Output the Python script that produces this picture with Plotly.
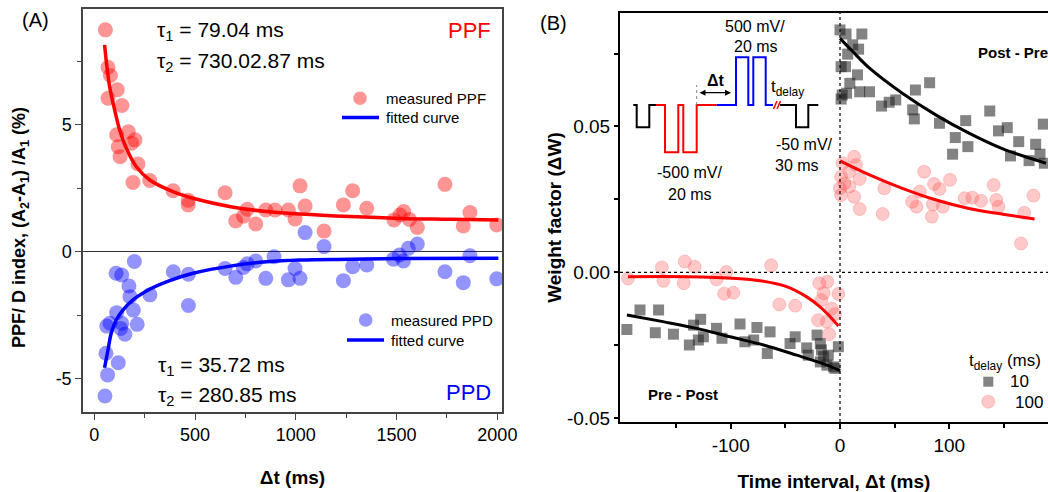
import plotly.graph_objects as go

W, H = 1048, 492

# ---------------- Panel A data ----------------
ppf_x = [55, 68, 80, 114, 68, 137, 111, 169, 202, 119, 128, 185, 217, 192, 275, 391, 466, 466,
         649, 702, 740, 759, 801, 851, 897, 963, 996, 1021, 1046, 1140, 1236, 1282, 1352,
         1487, 1517, 1535, 1564, 1603, 1740, 1831, 1864, 1997]
ppf_y = [8.73, 7.26, 6.93, 6.37, 6.04, 5.75, 4.60, 4.72, 4.40, 4.13, 3.74, 4.27, 3.45, 2.72, 2.80, 2.40, 2.02, 1.84,
         2.32, 1.21, 1.40, 1.67, 1.09, 1.64, 1.64, 1.64, 1.29, 2.59, 1.80, 0.81, 1.84, 2.40, 1.71,
         1.25, 1.44, 1.58, 1.27, 0.95, 2.65, 1.01, 1.54, 1.05]

ppd_x = [53, 66, 58, 119, 62, 78, 111, 136, 131, 152, 213, 194, 177, 172, 136, 108, 199, 276, 392, 467, 467,
         649, 702, 740, 759, 801, 851, 892, 963, 996, 1021, 1046, 1140, 1236, 1282, 1352,
         1484, 1514, 1534, 1558, 1603, 1740, 1831, 1864, 1997]
ppd_y = [-5.68, -4.85, -4.00, -4.37, -2.93, -2.82, -2.40, -2.82, -3.02, -3.25, -2.86, -2.30, -1.77, -1.35, -0.92, -0.85, -0.39, -1.70, -0.79, -0.89, -2.12,
         -0.66, -1.01, -0.62, -0.48, -0.37, -1.05, -0.20, -1.11, -0.66, -1.05, 0.75, 0.20, -1.14, -0.59, -0.52,
         -0.30, -0.13, -0.37, 0.13, 0.30, -0.79, -1.22, -0.16, -1.07]

ppf_fit_x = [51, 76, 101, 126, 159, 208, 275, 391, 490, 690, 855, 1021, 1269, 1517, 1765, 2005]
ppf_fit_y = [8.14, 6.50, 5.58, 4.79, 4.07, 3.35, 2.82, 2.36, 2.10, 1.75, 1.58, 1.48, 1.38, 1.31, 1.28, 1.25]
ppd_fit_x = [51, 68, 84, 109, 142, 192, 275, 374, 490, 690, 855, 1021, 1269, 1517, 2005]
ppd_fit_y = [-4.57, -3.87, -3.21, -2.69, -2.30, -1.90, -1.48, -1.14, -0.85, -0.55, -0.40, -0.33, -0.30, -0.27, -0.26]

a_xticks = [0, 500, 1000, 1500, 2000]
a_yticks = [-5, 0, 5]
a_yticklabels = ["-5", "0", "5"]

# ---------------- Panel B data ----------------
post10_x = [0, 5.5, 20, 11.6, 17, 7, 1, 5, 16, 9, 2, 1, 6, 18, 27, 38, 45, 51, 69, 82, 66.5, 68, 91, 115,
            105.5, 117, 103, 137, 145, 153, 163.5, 156, 173, 179, 183, 186, 187]
post10_y = [0.0831, 0.0817, 0.0817, 0.0780, 0.0765, 0.0748, 0.0705, 0.0705, 0.0677, 0.0648, 0.0608, 0.0594,
            0.0614, 0.0619, 0.0619, 0.0570, 0.0583, 0.0591, 0.0625, 0.0650, 0.0557, 0.0526, 0.0511, 0.0520,
            0.0462, 0.0431, 0.0405, 0.0553, 0.0485, 0.0496, 0.0448, 0.0399, 0.0383, 0.0439, 0.0405, 0.0508, 0.0374]
post100_x = [13, 2.4, 14.6, 8.5, 1, 18, 4, 0, 8.5, 13, 1, 18, 39, 40.5, 77, 86, 91, 100.6, 73, 66, 70, 85,
             94, 84, 114, 121, 129, 140.6, 143, 145, 168.6, 177, 165.6]
post100_y = [0.0396, 0.0374, 0.0368, 0.0345, 0.0328, 0.0320, 0.0305, 0.0288, 0.0294, 0.0259, 0.0265, 0.0217,
             0.0200, 0.0288, 0.0345, 0.0303, 0.0286, 0.0317, 0.0277, 0.0242, 0.0225, 0.0233, 0.0225, 0.0191,
             0.0254, 0.0256, 0.0245, 0.0299, 0.0248, 0.0225, 0.0204, 0.0263, 0.0099]
pre10_x = [-195, -183, -166, -169, -152.4, -137.8, -134, -127.5, -129.6, -125, -113, -108, -91.5, -87, -76,
           -79, -66.5, -64, -45.7, -41, -30.5, -29, -21, -18, -17, -15, -10.7, -6, -1.5, -18, -12, -4.6]
pre10_y = [-0.0196, -0.0129, -0.0129, -0.0207, -0.0212, -0.0249, -0.0181, -0.0161, -0.0232, -0.0221, -0.0192,
           -0.0226, -0.0177, -0.0238, -0.0189, -0.0232, -0.0278, -0.0204, -0.0244, -0.0221, -0.0259, -0.0284,
           -0.0215, -0.0244, -0.0266, -0.0289, -0.0284, -0.0324, -0.0255, -0.0307, -0.0318, -0.0329]
pre100_x = [-194, -163, -161.6, -142, -133, -143, -113, -104, -106, -97.6, -63, -55.5, -41, -19, -11.6, -15,
            -1.5, -17, -7.6, -4.6, -20, -12, -10]
pre100_y = [-0.0021, 0.0017, -0.0029, 0.0037, 0.0019, -0.0037, -0.0024, 0.0001, -0.0073, -0.0070, 0.0024,
            -0.0110, -0.0114, -0.0037, -0.0032, -0.0071, -0.0074, -0.0095, -0.0124, -0.0143, -0.0164, -0.0169, -0.0212]

post10_fit_x = [0, 11.6, 27, 57, 88, 118, 149, 179, 188.5]
post10_fit_y = [0.0802, 0.0757, 0.0700, 0.0614, 0.0539, 0.0477, 0.0423, 0.0385, 0.0374]
post100_fit_x = [0, 27, 57, 88, 118, 149, 178]
post100_fit_y = [0.0382, 0.0334, 0.0288, 0.0248, 0.0219, 0.0199, 0.0183]
pre10_fit_x = [-195, -162, -131, -100.6, -70, -39.6, -15, 0]
pre10_fit_y = [-0.0146, -0.0169, -0.0192, -0.0221, -0.0249, -0.0284, -0.0314, -0.0337]
pre100_fit_x = [-194, -140, -94.5, -73, -49, -30.5, -18.3, -9, -1.5]
pre100_fit_y = [-0.0015, -0.0015, -0.0021, -0.0029, -0.0049, -0.0084, -0.0118, -0.0152, -0.0184]

b_xticks = [-100, 0, 100]
b_xticklabels = ["-100", "0", "100"]
b_yticks = [-0.05, 0.0, 0.05]
b_yticklabels = ["-0.05", "0.00", "0.05"]

FONT = "Liberation Sans, Arial, sans-serif"
RED_A = "rgba(255,0,0,0.42)"
BLUE_A = "rgba(0,0,255,0.42)"
SQ = "rgba(30,30,30,0.55)"
RC = "rgba(255,60,60,0.28)"
RC_LINE = "rgba(255,120,120,0.35)"


def px(x):
    return x / W


def py(y):
    return 1 - y / H


fig = go.Figure()

# ----- Panel A traces -----
fig.add_trace(go.Scatter(x=ppf_x, y=ppf_y, mode="markers", name="measured PPF",
                         marker=dict(size=15, color=RED_A, line=dict(width=0)), showlegend=False,
                         xaxis="x", yaxis="y"))
fig.add_trace(go.Scatter(x=ppf_fit_x, y=ppf_fit_y, mode="lines", name="fitted curve (PPF)",
                         line=dict(color="#ff0000", width=3.5, shape="spline"),
                         showlegend=False, xaxis="x", yaxis="y"))
fig.add_trace(go.Scatter(x=ppd_x, y=ppd_y, mode="markers", name="measured PPD",
                         marker=dict(size=15, color=BLUE_A, line=dict(width=0)), showlegend=False,
                         xaxis="x", yaxis="y"))
fig.add_trace(go.Scatter(x=ppd_fit_x, y=ppd_fit_y, mode="lines", name="fitted curve (PPD)",
                         line=dict(color="#0000ff", width=3.5, shape="spline"), showlegend=False,
                         xaxis="x", yaxis="y"))

# ----- Panel B traces -----
fig.add_trace(go.Scatter(x=post10_x + pre10_x, y=post10_y + pre10_y, mode="markers", name="10",
                         marker=dict(symbol="square", size=11, color=SQ, line=dict(width=0)),
                         showlegend=False, xaxis="x2", yaxis="y2"))
fig.add_trace(go.Scatter(x=post100_x + pre100_x, y=post100_y + pre100_y, mode="markers", name="100",
                         marker=dict(symbol="circle", size=13, color=RC, line=dict(width=1, color=RC_LINE)),
                         showlegend=False, xaxis="x2", yaxis="y2"))
for fx, fy, c in [(post10_fit_x, post10_fit_y, "#000000"), (pre10_fit_x, pre10_fit_y, "#000000"),
                  (post100_fit_x, post100_fit_y, "#ff0000"), (pre100_fit_x, pre100_fit_y, "#ff0000")]:
    fig.add_trace(go.Scatter(x=fx, y=fy, mode="lines", line=dict(color=c, width=3, shape="spline"),
                             showlegend=False, xaxis="x2", yaxis="y2"))

axis_common = dict(showgrid=False, showline=True, ticks="outside", automargin=False)

fig.update_layout(
    width=W, height=H, margin=dict(l=0, r=0, t=0, b=0),
    paper_bgcolor="white", plot_bgcolor="white", showlegend=False,
    font=dict(family=FONT, color="#000"),
    xaxis=dict(domain=[px(83), px(502)], range=[-56, 2023], tickvals=a_xticks,
               tickfont=dict(family=FONT, size=18, color="#000"),
               ticklen=6, tickwidth=1.3, linecolor="#444", linewidth=1.5, mirror=True, zeroline=False,
               minor=dict(tickvals=[250, 750, 1250, 1750], ticklen=4, ticks="outside", tickcolor="#444"),
               tickcolor="#444",
               title=dict(text="<b>Δt (ms)</b>", font=dict(family=FONT, size=19), standoff=26),
               anchor="y", **axis_common),
    yaxis=dict(domain=[py(412), py(9)], range=[-6.31, 9.55], tickvals=a_yticks, ticktext=a_yticklabels,
               tickfont=dict(family=FONT, size=18, color="#000"),
               ticklen=6, tickwidth=1.3, linecolor="#444", linewidth=1.5, mirror=True,
               zeroline=True, zerolinecolor="#333", zerolinewidth=1.2,
               minor=dict(tickvals=[-2.5, 2.5, 7.5], ticklen=4, ticks="outside", tickcolor="#444"),
               tickcolor="#444", anchor="x", **axis_common),
    xaxis2=dict(domain=[px(620), 1.0], range=[-201.3, 190.3], tickvals=b_xticks, ticktext=b_xticklabels,
                tickfont=dict(family=FONT, size=19, color="#000"),
                ticklen=5, tickwidth=1.5, linecolor="#000", linewidth=2, mirror=True, zeroline=False,
                minor=dict(tickvals=[-150, -50, 50, 150], ticklen=4, ticks="outside", tickcolor="#000"),
                tickcolor="#000",
                title=dict(text="<b>Time interval, Δt (ms)</b>", font=dict(family=FONT, size=19), standoff=21),
                anchor="y2", **axis_common),
    yaxis2=dict(domain=[py(422), py(13)], range=[-0.0513, 0.0889], tickvals=b_yticks, ticktext=b_yticklabels,
                tickfont=dict(family=FONT, size=19, color="#000"),
                ticklen=4, tickwidth=1.5, linecolor="#000", linewidth=2, mirror=False,
                zeroline=False,
                minor=dict(tickvals=[-0.025, 0.025, 0.075], ticklen=4, ticks="outside", tickcolor="#000"),
                tickcolor="#000",
                title=dict(text="<b>Weight factor (ΔW)</b>", font=dict(family=FONT, size=19), standoff=0),
                anchor="x2", **axis_common),
)

# ----- shapes: reference lines in B, the pulse inset and legend glyphs -----
shapes = [
    dict(type="line", xref="x2", yref="y2 domain", x0=0, x1=0, y0=0, y1=1,
         line=dict(color="#000", width=1.2, dash="dot")),
    dict(type="line", xref="x2 domain", yref="y2", x0=0, x1=1, y0=0, y1=0,
         line=dict(color="#000", width=1.2, dash="dot")),
]


def path(points):
    return "M " + " L ".join(f"{px(a):.5f},{py(b):.5f}" for a, b in points)


base, dn_b, dn_r, up_b = 105, 127.3, 152.3, 57.3
inset = [
    ([(633.3, base), (636.7, base), (636.7, dn_b), (649.3, dn_b), (649.3, base), (656, base)], "#000"),
    ([(656, base), (665, base), (665, dn_r), (678.3, dn_r), (678.3, base), (683.3, base), (683.3, dn_r),
      (696.7, dn_r), (696.7, base), (716.7, base)], "#ff0000"),
    ([(716.7, base), (736, base), (736, up_b), (748.3, up_b), (748.3, base), (753.3, base), (753.3, up_b),
      (765.7, up_b), (765.7, base), (773, base)], "#0000ff"),
    ([(780, base), (796, base), (796, dn_b), (808.3, dn_b), (808.3, base), (818.3, base)], "#000"),
]
for pts, col in inset:
    shapes.append(dict(type="path", xref="paper", yref="paper", path=path(pts),
                       line=dict(color=col, width=2)))
for x0 in (773.5, 777):
    shapes.append(dict(type="line", xref="paper", yref="paper", x0=px(x0), x1=px(x0 + 3.5),
                       y0=py(109), y1=py(101), line=dict(color="#ff0000", width=1.5)))
shapes.append(dict(type="line", xref="paper", yref="paper", x0=px(696.7), x1=px(696.7), y0=py(105), y1=py(85),
                   line=dict(color="#888", width=1, dash="dot")))


def circle(cx, cy, r, fill, line_color=None):
    return dict(type="circle", xref="paper", yref="paper", x0=px(cx - r), x1=px(cx + r),
                y0=py(cy + r), y1=py(cy - r), fillcolor=fill,
                line=dict(width=1 if line_color else 0, color=line_color or fill))


def hline(xa, xb, y, color, width):
    return dict(type="line", xref="paper", yref="paper", x0=px(xa), x1=px(xb), y0=py(y), y1=py(y),
                line=dict(color=color, width=width))


# legend glyphs
shapes += [
    circle(360, 98.3, 6.8, RED_A),
    hline(342, 379, 117.5, "#0000ff", 3.5),
    circle(365.7, 320, 6.8, BLUE_A),
    hline(347, 384, 340, "#0000ff", 3.5),
    dict(type="rect", xref="paper", yref="paper", x0=px(983.3), x1=px(993.3), y0=py(386.7), y1=py(376.7),
         fillcolor=SQ, line=dict(width=0)),
    circle(988.3, 401.7, 6.5, RC, RC_LINE),
]
fig.update_layout(shapes=shapes)


# ----- annotations -----
def txt(x, y, text, size=16, color="#000", xanchor="center", bold=False, angle=0):
    return dict(x=px(x), y=py(y), xref="paper", yref="paper", text=f"<b>{text}</b>" if bold else text,
                showarrow=False, xanchor=xanchor, yanchor="middle", textangle=angle,
                font=dict(family=FONT, size=size, color=color))


ann = [
    txt(35, 20, "(A)", 20),
    txt(155, 31, "τ<sub>1</sub> = 79.04 ms", 21, xanchor="left"),
    txt(155, 62, "τ<sub>2</sub> = 730.02.87 ms", 21, xanchor="left"),
    txt(493, 31, "PPF", 22, "#ff0000", xanchor="right"),
    txt(156, 366, "τ<sub>1</sub> = 35.72 ms", 21, xanchor="left"),
    txt(156, 396, "τ<sub>2</sub> = 280.85 ms", 21, xanchor="left"),
    txt(493, 392, "PPD", 22, "#0000ff", xanchor="right"),
    txt(21, 228, "PPF/ D index, (A<sub>2</sub>-A<sub>1</sub>) /A<sub>1</sub> (%)", 18, bold=True, angle=-90),
    txt(384, 98.3, "measured PPF", 15, xanchor="left"),
    txt(384, 117.5, "fitted curve", 15, xanchor="left"),
    txt(389, 320, "measured PPD", 15, xanchor="left"),
    txt(389, 340, "fitted curve", 15, xanchor="left"),
    txt(553, 23, "(B)", 20),
    txt(755, 26, "500 mV/", 16),
    txt(756, 46, "20 ms", 16),
    txt(689, 173, "-500 mV/", 16),
    txt(690, 194, "20 ms", 16),
    txt(804, 145, "-50 mV/", 16),
    txt(797, 165, "30 ms", 16),
    txt(716, 80, "Δt", 16, bold=True),
    txt(769, 88, "t<sub>delay</sub>", 17, xanchor="left"),
    txt(976, 53, "Post - Pre", 15, bold=True, xanchor="left"),
    txt(683, 394, "Pre - Post", 15, bold=True),
    txt(967, 362, "t<sub>delay</sub> (ms)", 17, xanchor="left"),
    txt(1008, 381.5, "10", 17, xanchor="left"),
    txt(1013, 402, "100", 17, xanchor="left"),
    dict(x=px(731), y=py(92.7), ax=-33, ay=0, xref="paper", yref="paper", axref="pixel", ayref="pixel",
         text="", showarrow=True, arrowhead=2, arrowside="end+start", arrowsize=1, arrowwidth=1.2, arrowcolor="#000"),
]
fig.update_layout(annotations=ann)

fig.write_html("out.html", config={"displayModeBar": False},
               post_script="document.body.style.margin='0';document.body.style.padding='0';")
